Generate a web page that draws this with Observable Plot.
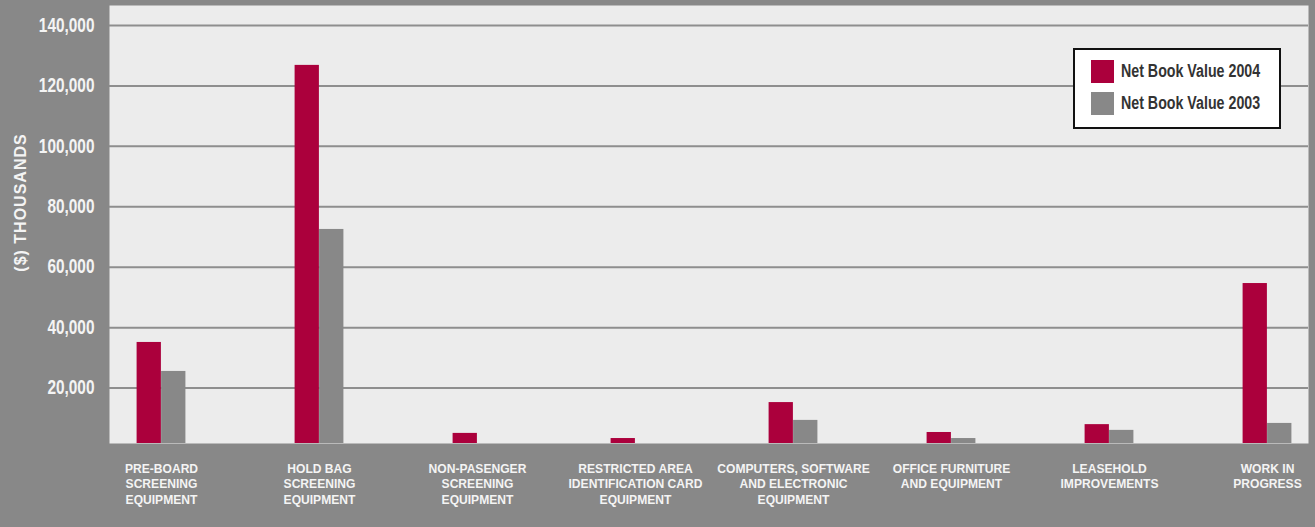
<!DOCTYPE html>
<html>
<head>
<meta charset="utf-8">
<script src="https://cdn.jsdelivr.net/npm/d3@7"></script>
<script src="https://cdn.jsdelivr.net/npm/@observablehq/plot@0.6"></script>
<style>
  html, body { margin: 0; padding: 0; background: #888888; }
  #wrap { position: relative; width: 1315px; height: 527px; overflow: hidden; }
  #legend {
    position: absolute; left: 1073px; top: 48px; width: 204px; height: 77px;
    background: #ffffff; border: 2px solid #111; box-sizing: content-box;
    font-family: "Liberation Sans", Arial, sans-serif;
    font-weight: bold; font-size: 18px; color: #333;
  }
  #legend .item { position: absolute; left: 16px; height: 23px; display: flex; align-items: center; white-space: nowrap; }
  #legend .sw { width: 23px; height: 23px; margin-right: 7px; flex: none; }
  #legend .lbl { display: inline-block; transform: scaleX(0.79); transform-origin: 0 50%; }
  svg text { font-family: "Liberation Sans", Arial, sans-serif; }
</style>
</head>
<body>
<div id="wrap">
  <div id="chart"></div>
  <div id="legend"></div>
</div>
<script>
const categories = [
  "PRE-BOARD\nSCREENING\nEQUIPMENT",
  "HOLD BAG\nSCREENING\nEQUIPMENT",
  "NON-PASENGER\nSCREENING\nEQUIPMENT",
  "RESTRICTED AREA\nIDENTIFICATION CARD\nEQUIPMENT",
  "COMPUTERS, SOFTWARE\nAND ELECTRONIC\nEQUIPMENT",
  "OFFICE FURNITURE\nAND EQUIPMENT",
  "LEASEHOLD\nIMPROVEMENTS",
  "WORK IN\nPROGRESS"
];
const values2004 = [35100, 126800, 5000, 3300, 15200, 5300, 7900, 54600];
const values2003 = [25500, 72500, 0, 0, 9300, 3300, 6000, 8300];
const seriesNames = ["Net Book Value 2004", "Net Book Value 2003"];
const seriesColors = ["#ab003c", "#888888"];
const yTicks = [20000, 40000, 60000, 80000, 100000, 120000, 140000];
const yLabel = "($) THOUSANDS";

const d2004 = categories.map((c, i) => ({cat: c, v: values2004[i]}));
const d2003 = categories.map((c, i) => ({cat: c, v: values2003[i]}));

const bw = 158.2;      // band step in px
const barW = 24.5;     // bar width in px

const chart = Plot.plot({
  width: 1315,
  height: 527,
  marginLeft: 109,
  marginRight: 7,
  marginTop: 5,
  marginBottom: 84,
  style: {background: "#888888", overflow: "visible"},
  x: {domain: categories, range: [160.3 - bw / 2, 160.3 + bw * 7.5], padding: 0},
  y: {domain: [0, 140000], range: [448, 25]},
  marks: [
    Plot.frame({fill: "#ececec", stroke: null}),
    Plot.gridY(yTicks, {stroke: "#8e8e8e", strokeWidth: 2, strokeOpacity: 1}),
    Plot.barY(d2004, {x: "cat", y: "v", fill: seriesColors[0], insetLeft: bw / 2 - barW, insetRight: bw / 2, clip: true}),
    Plot.barY(d2003, {x: "cat", y: "v", fill: seriesColors[1], insetLeft: bw / 2, insetRight: bw / 2 - barW, clip: true}),
    Plot.axisY(yTicks, {tickSize: 0, tickPadding: 15, tickFormat: d3.format(","), fill: "#f4f4f4", fontSize: 19.5, fontWeight: "bold", label: null}),
    Plot.axisX({tickSize: 0, tickPadding: 18, fill: "#f4f4f4", fontSize: 13, fontWeight: "bold", lineHeight: 1.2, lineAnchor: "top", label: null}),
    Plot.text([yLabel], {text: d => d, frameAnchor: "left", textAnchor: "middle", dx: -89, dy: -22, rotate: -90, fill: "#f4f4f4", fontSize: 16, fontWeight: "bold"})
  ]
});
document.getElementById("chart").appendChild(chart);

// condense the text horizontally to imitate the condensed typeface of the original
const sel = d3.select(chart);
sel.selectAll('g[aria-label="y-axis tick label"] text').each(function () {
  const t = this.getAttribute("transform") || "";
  this.setAttribute("transform", t + " scale(0.79,1)");
});
sel.selectAll('g[aria-label="x-axis tick label"] text').each(function () {
  const t = this.getAttribute("transform") || "";
  this.setAttribute("transform", t + " scale(0.93,1)");
});
sel.selectAll('g[aria-label="text"] text').attr("letter-spacing", "1px");

const legend = document.getElementById("legend");
seriesNames.forEach((name, i) => {
  const item = document.createElement("div");
  item.className = "item";
  item.style.top = (10 + i * 32) + "px";
  const sw = document.createElement("div");
  sw.className = "sw";
  sw.style.background = seriesColors[i];
  const t = document.createElement("span");
  t.className = "lbl";
  t.textContent = name;
  item.appendChild(sw);
  item.appendChild(t);
  legend.appendChild(item);
});
</script>
</body>
</html>
